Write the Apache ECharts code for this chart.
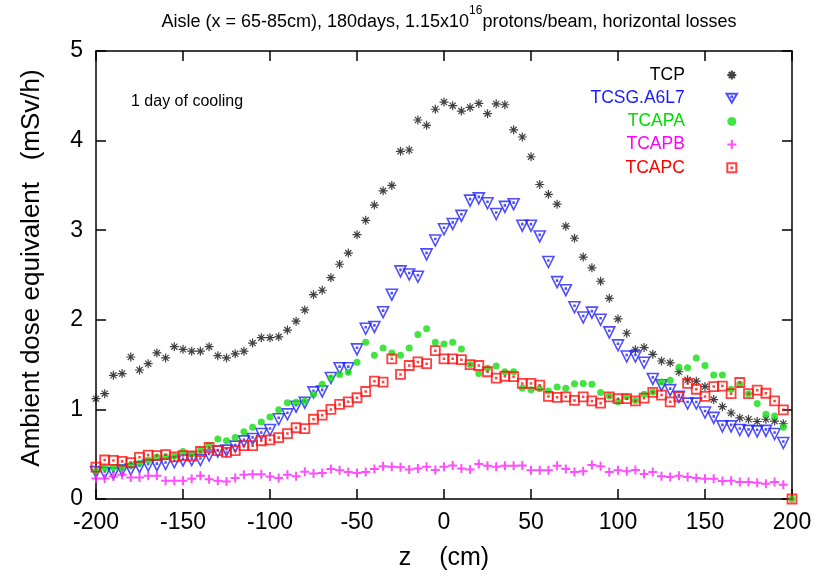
<!DOCTYPE html>
<html>
<head>
<meta charset="utf-8">
<title>Aisle dose rate</title>
<script src="https://cdn.jsdelivr.net/npm/echarts@6/dist/echarts.min.js"></script>
<style>
  html, body { margin: 0; padding: 0; background: #fff; }
  #chart { width: 833px; height: 576px; }
</style>
</head>
<body>
<div id="chart"></div>
<script>
// Longitudinal position of each scoring bin (cm)
const zPositions = [
  -200, -195, -190, -185, -180, -175, -170, -165, -160, -155,
  -150, -145, -140, -135, -130, -125, -120, -115, -110, -105,
  -100, -95, -90, -85, -80, -75, -70, -65, -60, -55,
  -50, -45, -40, -35, -30, -25, -20, -15, -10, -5,
  0, 5, 10, 15, 20, 25, 30, 35, 40, 45,
  50, 55, 60, 65, 70, 75, 80, 85, 90, 95,
  100, 105, 110, 115, 120, 125, 130, 135, 140, 145,
  150, 155, 160, 165, 170, 175, 180, 185, 190, 195,
  200
];

// Ambient dose equivalent (mSv/h) after 1 day of cooling, per collimator
const doseTCP = [
  1.12, 1.175, 1.38, 1.40, 1.585, 1.44, 1.51, 1.63, 1.575, 1.70,
  1.67, 1.65, 1.65, 1.70, 1.60, 1.575, 1.62, 1.65, 1.74, 1.80,
  1.80, 1.81, 1.885, 1.985, 2.11, 2.28, 2.33, 2.47, 2.62, 2.745,
  2.95, 3.11, 3.28, 3.44, 3.50, 3.88, 3.895, 4.23, 4.17, 4.35,
  4.43, 4.39, 4.33, 4.37, 4.415, 4.30, 4.41, 4.40, 4.12, 4.04,
  3.82, 3.51, 3.40, 3.29, 3.045, 2.91, 2.70, 2.58, 2.43, 2.24,
  2.01, 1.85, 1.665, 1.69, 1.615, 1.54, 1.52, 1.42, 1.33, 1.315,
  1.255, 1.11, 1.03, 0.96, 0.905, 0.89, 0.865, 0.89, 0.87, 0.84,
  null
];
const doseTCSG = [
  0.30, 0.29, 0.285, 0.32, 0.33, 0.355, 0.373, 0.377, 0.39, 0.41,
  0.43, 0.435, 0.435, 0.485, 0.53, 0.54, 0.584, 0.643, 0.67, 0.725,
  0.77, 0.89, 0.945, 1.03, 1.075, 1.19, 1.20, 1.35, 1.46, 1.46,
  1.67, 1.90, 1.92, 2.085, 2.28, 2.54, 2.505, 2.48, 2.73, 2.885,
  3.01, 3.07, 3.16, 3.33, 3.355, 3.30, 3.18, 3.26, 3.29, 3.05,
  3.05, 2.93, 2.645, 2.42, 2.33, 2.14, 2.025, 2.08, 2.00, 1.86,
  1.715, 1.59, 1.59, 1.52, 1.34, 1.27, 1.215, 1.14, 1.065, 1.065,
  0.965, 0.905, 0.81, 0.81, 0.77, 0.76, 0.755, 0.76, 0.725, 0.625,
  null
];
const doseTCAPA = [
  0.31, 0.345, 0.35, 0.35, 0.38, 0.40, 0.435, 0.47, 0.47, 0.48,
  0.53, 0.50, 0.54, 0.595, 0.67, 0.65, 0.685, 0.75, 0.80, 0.86,
  0.915, 0.995, 1.075, 1.08, 1.09, 1.17, 1.28, 1.35, 1.39, 1.415,
  1.525, 1.75, 1.605, 1.685, 1.63, 1.605, 1.685, 1.835, 1.90, 1.75,
  1.73, 1.75, 1.675, 1.50, 1.40, 1.46, 1.485, 1.42, 1.42, 1.24,
  1.22, 1.23, 1.205, 1.25, 1.235, 1.285, 1.29, 1.28, 1.19, 1.15,
  1.085, 1.14, 1.10, 1.17, 1.195, 1.305, 1.325, 1.47, 1.465, 1.575,
  1.49, 1.385, 1.385, 1.225, 1.28, 1.175, 1.065, 0.945, 0.925, 0.80,
  0
];
const doseTCAPB = [
  0.23, 0.23, 0.25, 0.27, 0.24, 0.24, 0.26, 0.26, 0.205, 0.205,
  0.205, 0.225, 0.26, 0.22, 0.205, 0.195, 0.235, 0.27, 0.275, 0.275,
  0.25, 0.235, 0.27, 0.255, 0.305, 0.285, 0.29, 0.335, 0.32, 0.30,
  0.29, 0.30, 0.335, 0.365, 0.36, 0.355, 0.33, 0.34, 0.36, 0.325,
  0.36, 0.375, 0.34, 0.33, 0.39, 0.37, 0.36, 0.37, 0.37, 0.375,
  0.32, 0.32, 0.32, 0.37, 0.335, 0.30, 0.31, 0.38, 0.365, 0.30,
  0.32, 0.31, 0.325, 0.28, 0.30, 0.255, 0.245, 0.26, 0.245, 0.235,
  0.225, 0.225, 0.20, 0.205, 0.19, 0.19, 0.18, 0.17, 0.19, 0.16,
  null
];
const doseTCAPC = [
  0.355, 0.435, 0.43, 0.42, 0.405, 0.465, 0.49, 0.485, 0.495, 0.47,
  0.485, 0.48, 0.53, 0.575, 0.54, 0.52, 0.54, 0.595, 0.595, 0.65,
  0.66, 0.685, 0.73, 0.795, 0.785, 0.89, 0.935, 1.00, 1.055, 1.085,
  1.13, 1.20, 1.315, 1.305, 1.565, 1.39, 1.49, 1.53, 1.51, 1.655,
  1.565, 1.565, 1.555, 1.50, 1.49, 1.42, 1.35, 1.37, 1.365, 1.29,
  1.29, 1.27, 1.145, 1.135, 1.14, 1.10, 1.14, 1.095, 1.07, 1.14,
  1.12, 1.12, 1.095, 1.125, 1.19, 1.16, 1.085, 1.14, 1.29, 1.225,
  1.145, 1.255, 1.26, 1.175, 1.30, 1.175, 1.215, 1.18, 1.095, 0.995,
  0
];

const xTicks = [-200, -150, -100, -50, 0, 50, 100, 150, 200];
const yTicks = [0, 1, 2, 3, 4, 5];

const seriesNames = ['TCP', 'TCSG.A6L7', 'TCAPA', 'TCAPB', 'TCAPC'];
const seriesValues = [doseTCP, doseTCSG, doseTCAPA, doseTCAPB, doseTCAPC];
const seriesColors = ['#000000', '#1a1aff', '#00dd00', '#ff00ff', '#ff0000'];

// Point shapes: asterisk, open down-triangle with centre dot, filled dot, plus, open square with centre dot
const SYM_STAR = 'path://M5 0L5 10M0 5L10 5M1.6 1.6L8.4 8.4M1.6 8.4L8.4 1.6';
const SYM_TRI = 'path://M0 0L10 0L5 8.66ZM4.6 2.7L5.4 2.7L5.4 3.5L4.6 3.5Z';
const SYM_PLUS = 'path://M5 0L5 10M0 5L10 5';
const SYM_SQ = 'path://M0 0L10 0L10 10L0 10ZM4.6 4.6L5.4 4.6L5.4 5.4L4.6 5.4Z';

const markerStyles = [
  { symbol: SYM_STAR, size: 9, itemStyle: { color: 'rgba(0,0,0,0)', borderColor: '#111', borderWidth: 1.2 } },
  { symbol: SYM_TRI, size: 11, itemStyle: { color: 'rgba(0,0,0,0)', borderColor: '#2222ff', borderWidth: 1.6 } },
  { symbol: 'circle', size: 7, itemStyle: { color: '#11dd11' } },
  { symbol: SYM_PLUS, size: 9, itemStyle: { color: 'rgba(0,0,0,0)', borderColor: '#ff22ff', borderWidth: 2 } },
  { symbol: SYM_SQ, size: 9, itemStyle: { color: 'rgba(0,0,0,0)', borderColor: '#ff1111', borderWidth: 1.8 } }
];

function pairs(values) {
  const out = [];
  for (let i = 0; i < zPositions.length; i++) {
    if (values[i] !== null) out.push([zPositions[i], values[i]]);
  }
  return out;
}

const FONT = 'Arial, "Liberation Sans", sans-serif';

const axisLine = { show: true, onZero: false, lineStyle: { color: '#000', width: 1.5 } };
const axisTick = { show: true, inside: true, length: 10, lineStyle: { color: '#000', width: 1.5 } };

const chart = echarts.init(document.getElementById('chart'), null, { renderer: 'canvas' });

chart.setOption({
  backgroundColor: '#fff',
  animation: false,
  title: {
    left: 444,
    textAlign: 'center',
    top: 0,
    text: '{a|Aisle (x = 65-85cm), 180days, 1.15x10}{s|16}{a|protons/beam, horizontal losses}',
    textStyle: {
      fontWeight: 'normal',
      rich: {
        a: { fontFamily: FONT, fontSize: 18, fontWeight: 'normal', color: '#000', verticalAlign: 'bottom', lineHeight: 26 },
        s: { fontFamily: FONT, fontSize: 12, fontWeight: 'normal', color: '#000', verticalAlign: 'top', lineHeight: 26 }
      }
    }
  },
  grid: { left: 96, right: 41, top: 51, bottom: 74 },
  legend: {
    orient: 'vertical',
    align: 'right',
    right: 95,
    top: 66,
    padding: 0,
    itemWidth: 84,
    itemHeight: 9,
    itemGap: 5.2,
    selectedMode: false,
    textStyle: { fontFamily: FONT, fontSize: 17.5, lineHeight: 15 },
    data: seriesNames.map((n, i) => ({ name: n, textStyle: { color: seriesColors[i] } }))
  },
  graphic: [{
    type: 'text',
    left: 131,
    top: 94,
    style: { text: '1 day of cooling', fontFamily: FONT, fontSize: 16, fill: '#000' }
  }],
  xAxis: [{
    type: 'value',
    min: xTicks[0],
    max: xTicks[xTicks.length - 1],
    interval: 50,
    position: 'bottom',
    axisLine: axisLine,
    axisTick: axisTick,
    splitLine: { show: false },
    axisLabel: { fontFamily: FONT, fontSize: 23, color: '#000', margin: 12 },
    name: 'z    (cm)',
    nameLocation: 'middle',
    nameGap: 47,
    nameTextStyle: { fontFamily: FONT, fontSize: 25, color: '#000' }
  }, {
    type: 'value',
    min: xTicks[0],
    max: xTicks[xTicks.length - 1],
    interval: 50,
    position: 'top',
    axisLine: axisLine,
    axisTick: axisTick,
    splitLine: { show: false },
    axisLabel: { show: false }
  }],
  yAxis: [{
    type: 'value',
    min: yTicks[0],
    max: yTicks[yTicks.length - 1],
    interval: 1,
    position: 'left',
    axisLine: axisLine,
    axisTick: axisTick,
    splitLine: { show: false },
    axisLabel: { fontFamily: FONT, fontSize: 23, color: '#000', margin: 13 },
    name: 'Ambient dose equivalent   (mSv/h)',
    nameLocation: 'middle',
    nameGap: 51,
    nameTextStyle: { fontFamily: FONT, fontSize: 26, color: '#000', padding: [0, 0, 0, 14] }
  }, {
    type: 'value',
    min: yTicks[0],
    max: yTicks[yTicks.length - 1],
    interval: 1,
    position: 'right',
    axisLine: axisLine,
    axisTick: axisTick,
    splitLine: { show: false },
    axisLabel: { show: false }
  }],
  series: seriesNames.map((name, i) => ({
    name: name,
    type: 'scatter',
    xAxisIndex: 0,
    yAxisIndex: 0,
    clip: false,
    symbol: markerStyles[i].symbol,
    symbolSize: markerStyles[i].size,
    itemStyle: markerStyles[i].itemStyle,
    emphasis: { disabled: true },
    data: pairs(seriesValues[i])
  }))
});
</script>
</body>
</html>
